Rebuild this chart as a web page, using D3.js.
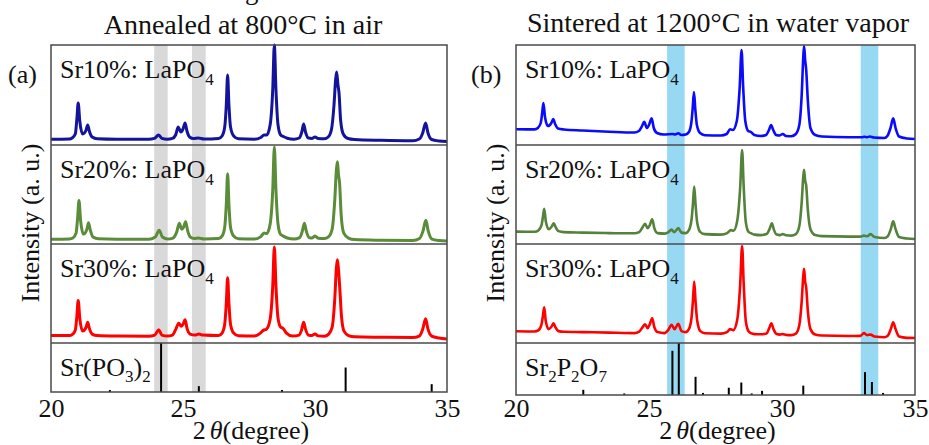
<!DOCTYPE html>
<html>
  <head>
    <meta charset="utf-8">
    <script src="https://cdn.jsdelivr.net/npm/d3@7"></script>
    <style type="text/css">
      body { margin: 0; background: #fff; }
      svg text { font-family: "Liberation Serif", "Times New Roman", serif; fill: #111; }
      .frame { fill: none; stroke: #4a4a4a; stroke-width: 1.5; }
      .divider { stroke: #4a4a4a; stroke-width: 1.5; }
      .stick { stroke: #000; stroke-width: 2; }
      .xrd { fill: none; stroke-linejoin: round; }
    </style>
  </head>
  <body>
    <div class="plot_canvas"></div>
    <script>

      var xTicks = [20, 25, 30, 35];
      var titles = ["Annealed at 800\u00B0C in air", "Sintered at 1200\u00B0C in water vapor"];
      var panelTags = ["(a)", "(b)"];
      var sampleNames = ["Sr10%", "Sr20%", "Sr30%"];
      var colorsA = ["#14149b", "#5b8c3a", "#ff0000"];
      var colorsB = ["#0a0aff", "#55823a", "#ff0000"];

      // annealed 800C, [2theta, intensity as fraction of strip height]
      var xrdA10 = [[20.00,0.057],[20.70,0.060],
        [20.80,0.07],[20.92,0.11],[20.98,0.26],[21.03,0.42],[21.09,0.24],[21.20,0.11],[21.33,0.15],[21.39,0.20],[21.45,0.14],[21.56,0.08],[21.75,0.062],
        [22.50,0.057],[23.70,0.057],
        [23.92,0.066],[24.07,0.10],[24.20,0.066],[24.40,0.058],
        [24.60,0.066],[24.72,0.10],[24.82,0.18],[24.92,0.13],[25.00,0.16],[25.08,0.22],[25.15,0.14],[25.25,0.08],[25.40,0.064],
        [25.58,0.07],[25.80,0.06],
        [26.35,0.065],[26.48,0.09],[26.58,0.18],[26.64,0.40],[26.69,0.70],[26.74,0.40],[26.80,0.18],[26.92,0.09],[27.10,0.062],
        [27.70,0.058],
        [27.95,0.075],[28.07,0.10],[28.17,0.10],
        [28.30,0.20],[28.40,0.56],[28.46,1.00],[28.52,0.56],[28.60,0.20],[28.70,0.10],[28.80,0.085],[28.95,0.068],[29.20,0.058],
        [29.40,0.07],[29.50,0.13],[29.57,0.21],[29.64,0.13],[29.75,0.07],
        [29.88,0.066],[30.00,0.08],[30.12,0.064],[30.35,0.062],
        [30.50,0.08],[30.62,0.15],[30.72,0.40],[30.78,0.65],[30.82,0.73],[30.87,0.60],[30.91,0.52],[30.97,0.25],[31.07,0.11],[31.25,0.065],[31.50,0.055],
        [32.50,0.047],[33.70,0.043],
        [33.95,0.06],[34.08,0.12],[34.19,0.22],[34.28,0.12],[34.42,0.055],[34.70,0.040],[35.00,0.035]];

      var xrdA20 = [[20.00,0.047],[20.70,0.050],
        [20.83,0.06],[20.95,0.11],[21.01,0.27],[21.06,0.44],[21.12,0.24],[21.23,0.10],[21.36,0.15],[21.42,0.215],[21.48,0.15],[21.59,0.07],[21.80,0.052],
        [22.50,0.047],[23.70,0.047],
        [23.95,0.07],[24.10,0.14],[24.22,0.07],[24.42,0.05],
        [24.62,0.06],[24.76,0.12],[24.86,0.21],[24.95,0.15],[25.02,0.17],[25.10,0.225],[25.17,0.14],[25.28,0.07],[25.42,0.055],
        [25.58,0.06],[25.80,0.05],
        [26.35,0.055],[26.48,0.08],[26.58,0.17],[26.64,0.40],[26.69,0.71],[26.74,0.40],[26.80,0.17],[26.92,0.08],[27.10,0.052],
        [27.70,0.05],
        [27.95,0.075],[28.07,0.11],[28.17,0.105],
        [28.30,0.20],[28.40,0.55],[28.46,0.98],[28.52,0.55],[28.60,0.20],[28.70,0.095],[28.80,0.08],[28.95,0.06],[29.20,0.05],
        [29.42,0.065],[29.52,0.13],[29.60,0.21],[29.67,0.13],[29.78,0.065],
        [29.88,0.06],[30.00,0.08],[30.12,0.058],[30.35,0.055],
        [30.52,0.075],[30.65,0.15],[30.75,0.45],[30.81,0.75],[30.85,0.83],[30.89,0.70],[30.93,0.62],[30.99,0.30],[31.09,0.11],[31.27,0.06],[31.50,0.045],
        [32.50,0.038],[33.70,0.035],
        [33.96,0.055],[34.09,0.13],[34.20,0.24],[34.29,0.13],[34.43,0.05],[34.70,0.035],[35.00,0.03]];

      var xrdA30 = [[20.00,0.075],[20.70,0.075],
        [20.80,0.085],[20.92,0.13],[20.98,0.27],[21.03,0.43],[21.09,0.25],[21.20,0.12],[21.33,0.16],[21.39,0.21],[21.45,0.15],[21.56,0.09],[21.75,0.075],
        [22.50,0.07],[23.70,0.068],
        [23.93,0.08],[24.08,0.135],[24.20,0.08],[24.40,0.07],
        [24.60,0.08],[24.73,0.14],[24.84,0.20],[24.93,0.17],[25.00,0.19],[25.08,0.235],[25.15,0.15],[25.27,0.09],
        [25.45,0.08],[25.60,0.09],[25.75,0.08],
        [26.35,0.075],[26.48,0.10],[26.58,0.19],[26.64,0.40],[26.69,0.66],[26.74,0.40],[26.80,0.19],[26.92,0.10],[27.10,0.072],
        [27.70,0.07],
        [27.93,0.10],[28.05,0.13],[28.16,0.14],
        [28.30,0.24],[28.40,0.58],[28.46,0.97],[28.52,0.58],[28.60,0.25],[28.70,0.16],[28.78,0.15],[28.92,0.10],[29.15,0.07],
        [29.40,0.08],[29.50,0.14],[29.57,0.21],[29.64,0.14],[29.75,0.08],
        [29.88,0.075],[30.00,0.09],[30.12,0.072],[30.35,0.068],
        [30.52,0.09],[30.65,0.16],[30.75,0.45],[30.81,0.76],[30.85,0.84],[30.89,0.74],[30.94,0.55],[31.00,0.28],[31.10,0.12],[31.27,0.075],[31.50,0.062],
        [32.50,0.058],[33.70,0.055],
        [33.95,0.07],[34.08,0.14],[34.19,0.245],[34.28,0.14],[34.42,0.07],[34.70,0.05],[35.00,0.04]];

      // sintered 1200C
      var xrdB10 = [[20.00,0.157],[20.70,0.156],
        [20.82,0.17],[20.93,0.22],[20.98,0.31],[21.03,0.42],[21.09,0.28],[21.20,0.19],[21.33,0.22],[21.40,0.26],[21.47,0.21],[21.58,0.165],[21.80,0.155],
        [22.50,0.145],[23.50,0.133],[24.45,0.125],
        [24.62,0.14],[24.74,0.19],[24.82,0.233],[24.92,0.17],[25.00,0.20],[25.10,0.267],[25.18,0.17],[25.30,0.12],
        [25.55,0.105],[25.89,0.11],[25.98,0.105],[26.10,0.117],[26.22,0.10],
        [26.38,0.105],[26.50,0.13],[26.59,0.22],[26.64,0.36],[26.69,0.53],[26.74,0.36],[26.80,0.20],[26.92,0.12],[27.10,0.098],
        [27.70,0.095],
        [27.92,0.11],[28.05,0.157],[28.15,0.15],
        [28.30,0.24],[28.41,0.58],[28.48,0.95],[28.54,0.58],[28.62,0.24],[28.73,0.14],[28.83,0.13],[28.96,0.10],[29.20,0.09],
        [29.40,0.10],[29.51,0.15],[29.59,0.20],[29.67,0.15],[29.78,0.10],
        [29.90,0.095],[30.03,0.11],[30.15,0.09],[30.35,0.088],
        [30.52,0.11],[30.65,0.20],[30.74,0.50],[30.80,0.88],[30.83,0.99],[30.87,0.85],[30.91,0.75],[30.97,0.45],[31.07,0.17],[31.25,0.10],[31.50,0.085],
        [32.50,0.078],[33.00,0.078],[33.10,0.082],[33.20,0.078],[33.30,0.085],[33.45,0.075],[33.85,0.07],
        [33.96,0.09],[34.08,0.17],[34.18,0.267],[34.27,0.17],[34.40,0.085],[34.70,0.065],[35.00,0.06]];

      var xrdB20 = [[20.00,0.125],[20.70,0.123],
        [20.85,0.14],[20.96,0.19],[21.01,0.27],[21.06,0.355],[21.12,0.23],[21.23,0.15],[21.35,0.18],[21.42,0.21],[21.49,0.17],[21.60,0.13],[21.80,0.12],
        [22.50,0.115],[23.50,0.11],[24.45,0.108],
        [24.63,0.12],[24.76,0.17],[24.85,0.205],[24.95,0.16],[25.03,0.19],[25.12,0.25],[25.20,0.16],[25.32,0.11],
        [25.60,0.105],[25.73,0.12],[25.85,0.145],[25.95,0.12],[26.10,0.16],[26.22,0.115],
        [26.38,0.11],[26.50,0.14],[26.60,0.25],[26.65,0.40],[26.70,0.58],[26.75,0.40],[26.81,0.22],[26.93,0.12],[27.10,0.10],
        [27.70,0.095],
        [27.94,0.11],[28.08,0.14],[28.18,0.135],
        [28.32,0.24],[28.43,0.58],[28.50,0.95],[28.56,0.58],[28.64,0.22],[28.75,0.12],[28.83,0.11],[28.97,0.095],[29.20,0.09],
        [29.42,0.10],[29.53,0.15],[29.62,0.21],[29.70,0.14],[29.80,0.095],
        [29.92,0.09],[30.03,0.10],[30.15,0.088],[30.35,0.085],
        [30.52,0.10],[30.65,0.18],[30.74,0.42],[30.80,0.68],[30.83,0.75],[30.87,0.64],[30.91,0.59],[30.97,0.35],[31.07,0.15],[31.25,0.09],[31.50,0.08],
        [32.50,0.075],[32.95,0.075],[33.08,0.085],[33.20,0.078],[33.33,0.10],[33.48,0.07],[33.85,0.06],
        [33.98,0.08],[34.09,0.15],[34.18,0.23],[34.27,0.15],[34.40,0.07],[34.70,0.055],[35.00,0.05]];

      var xrdB30 = [[20.00,0.118],[20.70,0.116],
        [20.85,0.13],[20.96,0.19],[21.01,0.27],[21.06,0.36],[21.12,0.22],[21.23,0.14],[21.35,0.17],[21.41,0.20],[21.48,0.16],[21.60,0.12],[21.80,0.113],
        [22.50,0.11],[23.50,0.105],[24.45,0.10],
        [24.63,0.115],[24.76,0.16],[24.85,0.19],[24.95,0.15],[25.03,0.19],[25.12,0.25],[25.20,0.16],[25.32,0.11],
        [25.58,0.10],[25.72,0.13],[25.85,0.185],[25.96,0.14],[26.10,0.195],[26.22,0.12],
        [26.38,0.11],[26.50,0.14],[26.60,0.26],[26.65,0.42],[26.70,0.62],[26.75,0.42],[26.81,0.23],[26.93,0.12],[27.10,0.098],
        [27.70,0.095],
        [27.93,0.11],[28.05,0.14],[28.17,0.13],
        [28.32,0.24],[28.43,0.60],[28.50,0.98],[28.56,0.60],[28.64,0.22],[28.75,0.115],[28.83,0.10],[28.97,0.09],[29.20,0.088],
        [29.42,0.095],[29.52,0.15],[29.60,0.20],[29.68,0.14],[29.80,0.09],
        [29.92,0.085],[30.03,0.09],[30.15,0.082],[30.35,0.08],
        [30.52,0.095],[30.65,0.18],[30.74,0.42],[30.80,0.68],[30.83,0.75],[30.87,0.62],[30.91,0.56],[30.97,0.33],[31.07,0.14],[31.25,0.085],[31.50,0.075],
        [32.50,0.07],[32.95,0.072],[33.08,0.10],[33.20,0.08],[33.33,0.085],[33.48,0.065],[33.85,0.058],
        [33.98,0.075],[34.09,0.14],[34.18,0.21],[34.27,0.14],[34.40,0.065],[34.70,0.052],[35.00,0.05]];

      // highlighted 2theta ranges
      var bandsA = [[23.91, 24.42], [25.34, 25.86]];
      var bandsB = [[25.68, 26.34], [32.96, 33.62]];

      // reference patterns (position, relative intensity)
      var refPosA = [22.23, 24.17, 25.60, 28.75, 31.16, 34.42];
      var refIntA = [0.04, 1.00, 0.12, 0.04, 0.50, 0.16];
      var refPosB = [22.53, 24.07, 25.88, 26.12, 26.75, 27.03, 28.00, 28.47, 28.86, 29.25, 30.80, 33.12, 33.38, 33.80];
      var refIntB = [0.10, 0.03, 0.85, 1.00, 0.35, 0.04, 0.14, 0.24, 0.03, 0.08, 0.18, 0.44, 0.25, 0.04];
      var refLabelA = [["Sr(PO", 0], ["3", 1], [")", 0], ["2", 1]];
      var refLabelB = [["Sr", 0], ["2", 1], ["P", 0], ["2", 1], ["O", 0], ["7", 1]];

      var panels = [
        {left: 51, right: 447, rows: [45, 145, 244, 343, 392], title: titles[0], titleX: 243, titleY: 34, tag: panelTags[0], tagX: 8,
         series: [xrdA10, xrdA20, xrdA30], colors: colorsA, lw: 3, bands: bandsA, bandColor: "#d9d9d9",
         refPos: refPosA, refInt: refIntA, refLabel: refLabelA},
        {left: 516, right: 915, rows: [45, 145, 244, 343, 395], title: titles[1], titleX: 718, titleY: 32, tag: panelTags[1], tagX: 471,
         series: [xrdB10, xrdB20, xrdB30], colors: colorsB, lw: 2.6, bands: bandsB, bandColor: "#97d9f3",
         refPos: refPosB, refInt: refIntB, refLabel: refLabelB}
      ];

      var serif = "'Liberation Serif', 'Times New Roman', serif";

      var svg = d3.select(".plot_canvas")
      .append("svg")
      .attr("width", 929)
      .attr("height", 445);

      function richText(g, x, y, segs, shiftDown) {
        var t = g.append("text").attr("x", x).attr("y", y).style("font-family", serif).attr("font-size", 26);
        var shift = 0;
        segs.forEach(function(s) {
          var d = s[1] ? shiftDown : 0;
          t.append("tspan")
          .attr("dy", d - shift)
          .attr("font-size", s[1] ? 17 : 26)
          .text(s[0]);
          shift = d;
        });
      }

      // clipped top glyph from the line above
      svg.append("text")
      .attr("x", 245)
      .attr("y", -1)
      .style("font-family", serif)
      .attr("font-size", 27)
      .text("g");

      panels.forEach(function(p) {
        var g = svg.append("g");
        var rows = p.rows;
        var top = rows[0], bottom = rows[4];

        var xScale = d3.scaleLinear()
        .domain([xTicks[0], xTicks[xTicks.length - 1]])
        .range([p.left, p.right]);

        g.selectAll(".band")
        .data(p.bands).enter()
        .append("rect")
        .attr("class", "band")
        .attr("x", function(d) { return xScale(d[0]); })
        .attr("width", function(d) { return xScale(d[1]) - xScale(d[0]); })
        .attr("y", top)
        .attr("height", bottom - top)
        .attr("fill", p.bandColor);

        p.series.forEach(function(s, i) {
          var yScale = d3.scaleLinear()
          .domain([0, 1])
          .range([rows[i + 1], rows[i]]);

          var line = d3.line()
          .curve(d3.curveMonotoneX)
          .x(function(d) { return xScale(d[0]); })
          .y(function(d) { return yScale(d[1]); });

          g.append("path")
          .attr("class", "xrd")
          .attr("stroke", p.colors[i])
          .attr("stroke-width", p.lw)
          .attr("d", line(s));

          richText(g, p.left + 9, rows[i] + 33, [[sampleNames[i] + ": LaPO", 0], ["4", 1]], 7);
        });

        var yRef = d3.scaleLinear()
        .domain([0, 1])
        .range([bottom, rows[3]]);

        g.selectAll(".stick")
        .data(p.refPos).enter()
        .append("line")
        .attr("class", "stick")
        .attr("x1", function(d) { return xScale(d); })
        .attr("x2", function(d) { return xScale(d); })
        .attr("y1", bottom)
        .attr("y2", function(d, i) { return yRef(p.refInt[i]); });

        richText(g, p.left + 9, rows[3] + 33, p.refLabel, 6);

        g.selectAll(".divider")
        .data(rows.slice(1, 4)).enter()
        .append("line")
        .attr("class", "divider")
        .attr("x1", p.left)
        .attr("x2", p.right)
        .attr("y1", function(d) { return d; })
        .attr("y2", function(d) { return d; });

        g.append("rect")
        .attr("class", "frame")
        .attr("x", p.left)
        .attr("y", top)
        .attr("width", p.right - p.left)
        .attr("height", bottom - top);

        var xAxis = d3.axisBottom(xScale)
        .tickValues(xTicks)
        .tickSize(0)
        .tickPadding(417 - 0.71 * 26 - bottom);

        var ax = g.append("g")
        .attr("transform", "translate(0," + bottom + ")")
        .call(xAxis);
        ax.select(".domain").remove();
        ax.selectAll("text")
        .style("font-family", serif)
        .attr("font-size", 26)
        .attr("fill", "#111");

        var xt = g.append("text")
        .attr("x", (p.left + p.right) / 2 + 2)
        .attr("y", 439)
        .attr("text-anchor", "middle")
        .style("font-family", serif)
        .attr("font-size", 26);
        xt.append("tspan").text("2");
        xt.append("tspan").attr("dx", 4).attr("font-style", "italic").text("\u03B8");
        xt.append("tspan").text("(degree)");

        g.append("text")
        .attr("transform", "translate(" + (p.left - 12) + ",223) rotate(-90)")
        .attr("text-anchor", "middle")
        .style("font-family", serif)
        .attr("font-size", 26)
        .text("Intensity (a. u.)");

        g.append("text")
        .attr("x", p.titleX)
        .attr("y", p.titleY)
        .attr("text-anchor", "middle")
        .style("font-family", serif)
        .attr("font-size", 28)
        .text(p.title);

        g.append("text")
        .attr("x", p.tagX)
        .attr("y", 83)
        .style("font-family", serif)
        .attr("font-size", 26)
        .text(p.tag);
      });

    </script>
  </body>
</html>
